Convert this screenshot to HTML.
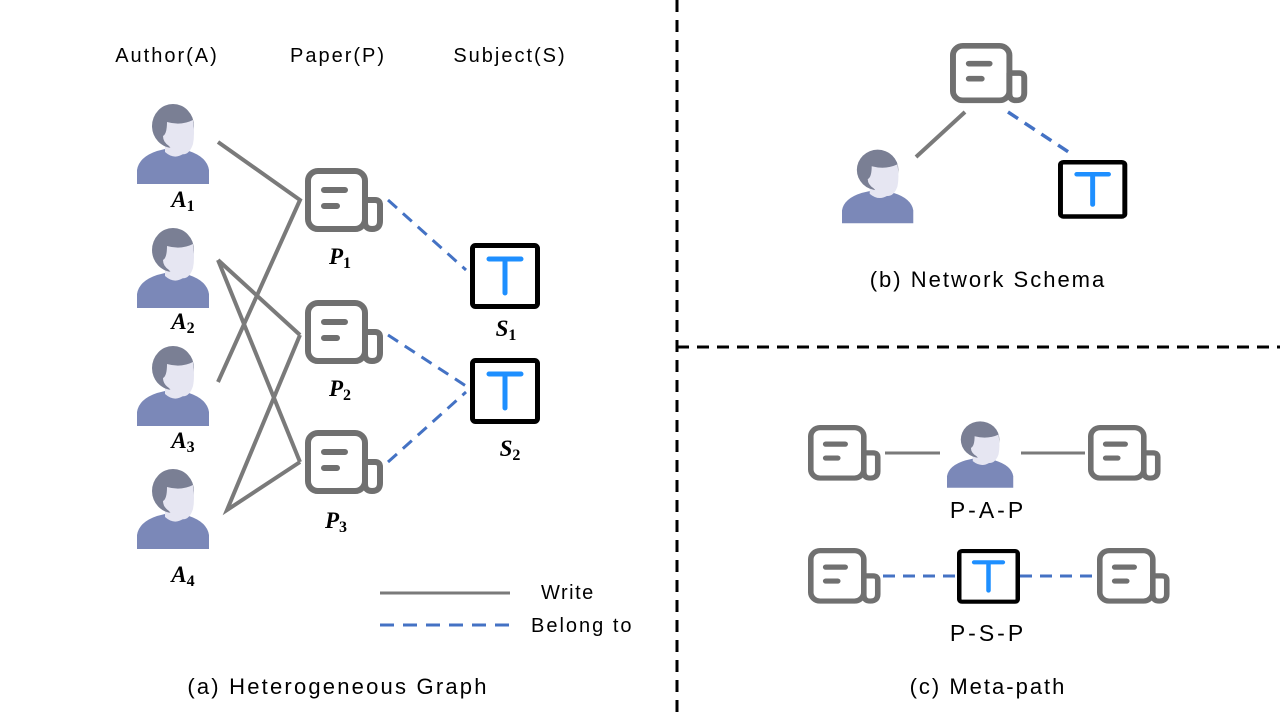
<!DOCTYPE html>
<html><head><meta charset="utf-8"><style>
html,body{margin:0;padding:0;background:#fff;}
svg{display:block;}
text{font-family:"Liberation Sans","DejaVu Sans",sans-serif;fill:#000;}
.lab{font-family:"Liberation Serif",serif;font-style:italic;font-weight:bold;font-size:23px;}
.sub{font-style:normal;font-size:16px;}
</style></head><body>
<svg width="1280" height="720" viewBox="0 0 1280 720" xmlns="http://www.w3.org/2000/svg">
<defs>
<g id="person">
  <path d="M0,84 V70 Q2,57 20,51 L36,47 L52,51 Q70,57 72,70 V84 Z" fill="#7b88b8"/>
  <path d="M28,40 H46 V54 Q37,60 28,52 Z" fill="#e6e6f2"/>
  <ellipse cx="36" cy="26" rx="21" ry="22" fill="#7a7f94"/>
  <path d="M30,22 Q44,26 56,20 Q58,34 56,44 Q52,56 44,54 Q36,52 32,46 Q26,42 26,36 Q30,34 30,22 Z" fill="#e6e6f2"/>
</g>
<g id="paper" fill="#fff" stroke="#707070" stroke-width="6" stroke-linecap="round" stroke-linejoin="round">
  <rect x="3" y="3" width="57" height="58" rx="10"/>
  <path d="M60,32 H70 Q75,32 75,37 V53 Q75,61 67,61 Q60,61 60,54 Z"/>
  <path d="M19,22 H40 M19,38 H32" fill="none"/>
</g>
<g id="subj">
  <rect x="2.5" y="2.5" width="65" height="61" rx="3" fill="#fff" stroke="#000" stroke-width="5"/>
  <path d="M19,16 H51 M35,16 V50" stroke="#1e8fff" stroke-width="5" stroke-linecap="round" fill="none"/>
</g>
</defs>

<line x1="677" y1="0" x2="677" y2="720" stroke="#000" stroke-width="3" stroke-dasharray="12,8"/>
<line x1="677" y1="347" x2="1280" y2="347" stroke="#000" stroke-width="3" stroke-dasharray="12,8"/>

<text x="167" y="62" font-size="20" letter-spacing="2" text-anchor="middle">Author(A)</text>
<text x="338" y="62" font-size="20" letter-spacing="2" text-anchor="middle">Paper(P)</text>
<text x="510" y="62" font-size="20" letter-spacing="2" text-anchor="middle">Subject(S)</text>

<g stroke="#7a7a7a" stroke-width="4" fill="none">
  <polyline points="218,142 300,200 218,382"/>
  <line x1="218" y1="260" x2="300" y2="335"/>
  <line x1="218" y1="260" x2="300" y2="462"/>
  <polyline points="300,335 227,510 300,462"/>
</g>
<g stroke="#4472c4" stroke-width="3" stroke-dasharray="12,8" fill="none">
  <line x1="388" y1="200" x2="466" y2="270"/>
  <line x1="388" y1="335" x2="466" y2="386"/>
  <line x1="388" y1="462" x2="466" y2="392"/>
</g>

<use href="#person" x="137" y="100"/>
<use href="#person" x="137" y="224"/>
<use href="#person" x="137" y="342"/>
<use href="#person" x="137" y="465"/>
<text class="lab" x="183" y="207" text-anchor="middle">A<tspan class="sub" dy="4">1</tspan></text>
<text class="lab" x="183" y="329" text-anchor="middle">A<tspan class="sub" dy="4">2</tspan></text>
<text class="lab" x="183" y="448" text-anchor="middle">A<tspan class="sub" dy="4">3</tspan></text>
<text class="lab" x="183" y="582" text-anchor="middle">A<tspan class="sub" dy="4">4</tspan></text>

<use href="#paper" x="305" y="168"/>
<use href="#paper" x="305" y="300"/>
<use href="#paper" x="305" y="430"/>
<text class="lab" x="340" y="264" text-anchor="middle">P<tspan class="sub" dy="4">1</tspan></text>
<text class="lab" x="340" y="396" text-anchor="middle">P<tspan class="sub" dy="4">2</tspan></text>
<text class="lab" x="336" y="528" text-anchor="middle">P<tspan class="sub" dy="4">3</tspan></text>

<use href="#subj" x="470" y="243"/>
<use href="#subj" x="470" y="358"/>
<text class="lab" x="506" y="336" text-anchor="middle">S<tspan class="sub" dy="4">1</tspan></text>
<text class="lab" x="510" y="456" text-anchor="middle">S<tspan class="sub" dy="4">2</tspan></text>

<line x1="380" y1="593" x2="510" y2="593" stroke="#7a7a7a" stroke-width="3"/>
<line x1="380" y1="625" x2="510" y2="625" stroke="#4472c4" stroke-width="3" stroke-dasharray="14,9"/>
<text x="541" y="599" font-size="20" letter-spacing="1.5">Write</text>
<text x="531" y="632" font-size="20" letter-spacing="2">Belong to</text>
<text x="338" y="694" font-size="22" letter-spacing="2.2" text-anchor="middle">(a) Heterogeneous Graph</text>

<line x1="965" y1="112" x2="916" y2="157" stroke="#7a7a7a" stroke-width="4"/>
<line x1="1008" y1="112" x2="1070" y2="153" stroke="#4472c4" stroke-width="3.5" stroke-dasharray="12,8"/>
<g transform="translate(950,43) scale(0.99,0.94)"><use href="#paper"/></g>
<g transform="translate(842,146) scale(0.99,0.92)"><use href="#person"/></g>
<g transform="translate(1058,160) scale(0.99,0.89)"><use href="#subj"/></g>
<text x="988" y="287" font-size="22" letter-spacing="2" text-anchor="middle">(b) Network Schema</text>

<line x1="885" y1="453" x2="940" y2="453" stroke="#7a7a7a" stroke-width="3"/>
<line x1="1021" y1="453" x2="1085" y2="453" stroke="#7a7a7a" stroke-width="3"/>
<g transform="translate(808,425) scale(0.93,0.87)"><use href="#paper"/></g>
<g transform="translate(1088,425) scale(0.93,0.87)"><use href="#paper"/></g>
<g transform="translate(947,418) scale(0.92,0.83)"><use href="#person"/></g>
<text x="988" y="518" font-size="23" text-anchor="middle" letter-spacing="3">P-A-P</text>

<line x1="883" y1="576" x2="957" y2="576" stroke="#4472c4" stroke-width="3" stroke-dasharray="12,8"/>
<line x1="1020" y1="576" x2="1095" y2="576" stroke="#4472c4" stroke-width="3" stroke-dasharray="12,8"/>
<g transform="translate(808,548) scale(0.93,0.87)"><use href="#paper"/></g>
<g transform="translate(1097,548) scale(0.93,0.87)"><use href="#paper"/></g>
<g transform="translate(957,549) scale(0.9,0.83)"><use href="#subj"/></g>
<text x="988" y="641" font-size="23" text-anchor="middle" letter-spacing="3">P-S-P</text>
<text x="988" y="694" font-size="22" letter-spacing="2" text-anchor="middle">(c) Meta-path</text>
</svg>
</body></html>
